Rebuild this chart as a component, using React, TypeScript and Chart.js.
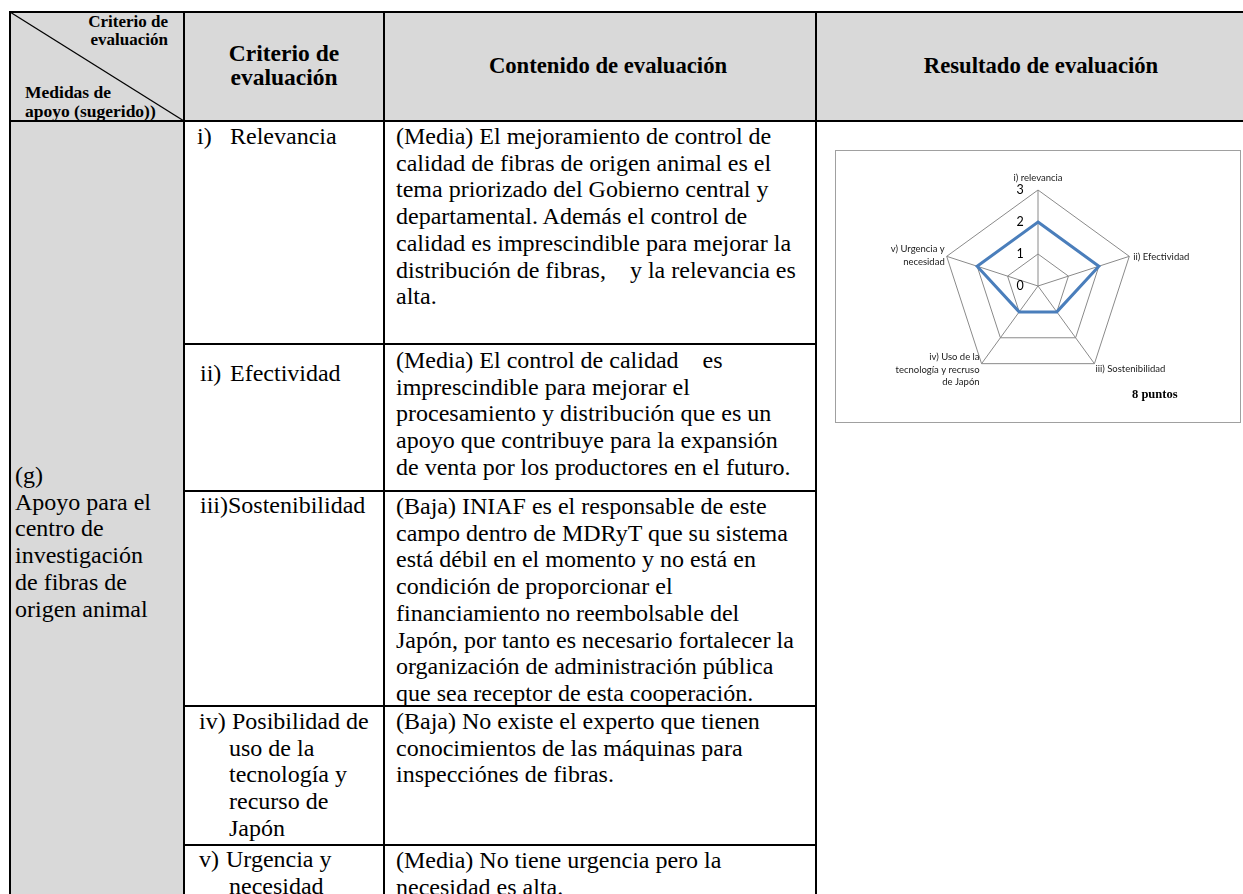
import React, { useEffect, useRef } from "react";
import { Chart, registerables } from "chart.js";

Chart.register(...registerables);

// ---------------- Radar chart data ----------------
const radarCriteria = [
  "i) relevancia",
  "ii) Efectividad",
  "iii) Sostenibilidad",
  "iv) Uso de la tecnología y recruso de Japón",
  "v) Urgencia y necesidad",
];
const radarLabelLines = [
  ["i) relevancia"],
  ["ii) Efectividad"],
  ["iii) Sostenibilidad"],
  ["iv) Uso de la", "tecnología y recruso", "de Japón"],
  ["v) Urgencia y", "necesidad"],
];
const radarScores = [2, 2, 1, 1, 2];
const radarTicks = [0, 1, 2, 3];
const totalText = "8 puntos";

// ---------------- Table text ----------------
const diagTopLines = ["Criterio de", "evaluación"];
const diagBottomLines = ["Medidas de", "apoyo (sugerido))"];
const headCriterio = ["Criterio de", "evaluación"];
const headContenido = "Contenido de evaluación";
const headResultado = "Resultado de evaluación";
const measureLines = ["(g)", "Apoyo para el", "centro de", "investigación", "de fibras de", "origen animal"];
const criterionTags = ["i)", "ii)", "iii)", "iv)", "v)"];
const criterionText = [
  ["Relevancia"],
  ["Efectividad"],
  ["Sostenibilidad"],
  ["Posibilidad de", "uso de la", "tecnología y", "recurso de", "Japón"],
  ["Urgencia y", "necesidad"],
];
const contentText = [
  [
    "(Media) El mejoramiento de control de",
    "calidad de fibras de origen animal es el",
    "tema priorizado del Gobierno central y",
    "departamental. Además el control de",
    "calidad es imprescindible para mejorar la",
    "distribución de fibras,    y la relevancia es",
    "alta.",
  ],
  [
    "(Media) El control de calidad    es",
    "imprescindible para mejorar el",
    "procesamiento y distribución que es un",
    "apoyo que contribuye para la expansión",
    "de venta por los productores en el futuro.",
  ],
  [
    "(Baja) INIAF es el responsable de este",
    "campo dentro de MDRyT que su sistema",
    "está débil en el momento y no está en",
    "condición de proporcionar el",
    "financiamiento no reembolsable del",
    "Japón, por tanto es necesario fortalecer la",
    "organización de administración pública",
    "que sea receptor de esta cooperación.",
  ],
  [
    "(Baja) No existe el experto que tienen",
    "conocimientos de las máquinas para",
    "inspecciónes de fibras.",
  ],
  ["(Media) No tiene urgencia pero la", "necesidad es alta."],
];

// ---------------- Layout ----------------
const PAGE_W = 1243;
const PAGE_H = 894;
const COLS = [10, 184, 384, 816, 1262];
const ROWS = [12, 121, 344, 491, 706, 845, 1010];
const ROW_LINE_W = [2, 2, 2, 1.3, 2, 2];
const GRAY = "#d9d9d9";
const SERIF = '"Liberation Serif", "Times New Roman", serif';
const BODY_FS = 24;
const BODY_LH = 26.7;
const col2Tops = [123, 360, 492, 708, 846];
const col3Tops = [123, 347, 493, 708, 847];
const tagX = [197, 200, 200, 199, 199];
const firstTextX = [230, 230, 228, 232, 226];
const contTextX = [230, 230, 228, 229, 229];
const col3X = 396;
const measureX = 15;
const measureTop = 462;
const BOX = { left: 835, top: 150, width: 404, height: 271 };

function Line({ x, y, w, h }: { x: number; y: number; w: number; h: number }) {
  return <div style={{ position: "absolute", left: x, top: y, width: w, height: h, background: "#000" }} />;
}

function TextLine({ x, y, text, bold, size, lh, align, width }: any) {
  return (
    <div
      style={{
        position: "absolute",
        left: x,
        top: y,
        width: width,
        whiteSpace: "pre",
        fontFamily: SERIF,
        fontWeight: bold ? "bold" : "normal",
        fontSize: size,
        lineHeight: lh + "px",
        textAlign: align || "left",
        color: "#000",
      }}
    >
      {text}
    </div>
  );
}

function RadarChart() {
  const ref = useRef<HTMLCanvasElement>(null);
  useEffect(() => {
    if (!ref.current) return;
    const labelPlugin = {
      id: "customRadarLabels",
      afterDraw(chart: any) {
        const scale = chart.scales.r;
        const ctx = chart.ctx;
        ctx.save();
        ctx.fillStyle = "#000";
        ctx.font = '12.5px Lato, "Open Sans", sans-serif';
        ctx.textAlign = "center";
        ctx.textBaseline = "middle";
        radarTicks.forEach((v) => {
          const d = scale.getDistanceFromCenterForValue(v);
          ctx.fillText(String(v), scale.xCenter - 18, scale.yCenter - d);
        });
        ctx.font = '9.5px Lato, "Open Sans", sans-serif';
        ctx.fillStyle = "#1a1a1a";
        const lh = 12.5;
        radarLabelLines.forEach((lines, i) => {
          const p = scale.getPointPositionForValue(i, scale.max);
          const dx = p.x - scale.xCenter;
          const below = p.y > scale.yCenter + 1;
          let x = p.x;
          let yMid = p.y;
          if (Math.abs(dx) < 1) {
            ctx.textAlign = "center";
            yMid = p.y - 12.5;
          } else if (dx > 0) {
            ctx.textAlign = "left";
            x = p.x + (below ? 1 : 4);
            yMid = p.y + (below ? 5 : 1);
          } else {
            ctx.textAlign = "right";
            x = p.x - 2;
            yMid = p.y + (below ? 6 : -1);
          }
          lines.forEach((t, k) => {
            ctx.fillText(t, x, yMid + (k - (lines.length - 1) / 2) * lh);
          });
        });
        ctx.restore();
      },
    };
    const chart = new Chart(ref.current, {
      type: "radar",
      data: {
        labels: radarCriteria,
        datasets: [
          {
            data: radarScores,
            borderColor: "#4a7ebb",
            borderWidth: 3,
            pointRadius: 0,
            backgroundColor: "rgba(0,0,0,0)",
            fill: false,
          },
        ],
      },
      options: {
        animation: false,
        responsive: false,
        maintainAspectRatio: false,
        layout: { padding: { left: 106, right: 106, top: 39, bottom: 40 } },
        plugins: { legend: { display: false }, tooltip: { enabled: false } },
        scales: {
          r: {
            min: 0,
            max: 3,
            ticks: { stepSize: 1, display: false },
            pointLabels: { display: false },
            grid: { color: "#8a8a8a", lineWidth: 1 },
            angleLines: { color: "#8a8a8a", lineWidth: 1 },
          },
        },
      },
      plugins: [labelPlugin],
    } as any);
    return () => chart.destroy();
  }, []);
  return <canvas ref={ref} width={BOX.width} height={BOX.height} style={{ display: "block", width: BOX.width, height: BOX.height }} />;
}

export default function App() {
  const bottom = ROWS[ROWS.length - 1];
  const right = COLS[COLS.length - 1];
  const els: any[] = [];

  // backgrounds
  els.push(<div key="hbg" style={{ position: "absolute", left: COLS[0], top: ROWS[0], width: right - COLS[0], height: ROWS[1] - ROWS[0], background: GRAY }} />);
  els.push(<div key="c1bg" style={{ position: "absolute", left: COLS[0], top: ROWS[1], width: COLS[1] - COLS[0], height: bottom - ROWS[1], background: GRAY }} />);

  // horizontal lines
  els.push(<Line key="ht" x={COLS[0] - 1} y={ROWS[0] - 1} w={right - COLS[0] + 2} h={2} />);
  els.push(<Line key="hh" x={COLS[0] - 1} y={ROWS[1] - 1} w={right - COLS[0] + 2} h={2} />);
  for (let r = 2; r <= 5; r++) {
    const t = ROW_LINE_W[r];
    els.push(<Line key={"hr" + r} x={COLS[1]} y={ROWS[r] - t / 2} w={COLS[3] - COLS[1]} h={t} />);
  }
  // vertical lines
  for (let c = 0; c < 4; c++) {
    els.push(<Line key={"v" + c} x={COLS[c] - 1} y={ROWS[0] - 1} w={2} h={bottom - ROWS[0]} />);
  }

  // header: diagonal cell
  els.push(
    <svg key="diag" style={{ position: "absolute", left: 0, top: 0 }} width={PAGE_W} height={200}>
      <line x1={COLS[0]} y1={ROWS[0]} x2={COLS[1]} y2={ROWS[1]} stroke="#000" strokeWidth={1.3} />
    </svg>
  );
  diagTopLines.forEach((t, i) =>
    els.push(<TextLine key={"dt" + i} x={COLS[0]} y={13 + i * 17.5} width={158} text={t} bold size={17} lh={17} align="right" />)
  );
  diagBottomLines.forEach((t, i) =>
    els.push(<TextLine key={"db" + i} x={25} y={83 + i * 18.5} text={t} bold size={17.5} lh={18} />)
  );
  headCriterio.forEach((t, i) =>
    els.push(<TextLine key={"hc" + i} x={COLS[1]} y={41 + i * 24} width={COLS[2] - COLS[1]} text={t} bold size={23.5} lh={25} align="center" />)
  );
  els.push(<TextLine key="hcont" x={COLS[2] + 8} y={53} width={COLS[3] - COLS[2]} text={headContenido} bold size={22.7} lh={25} align="center" />);
  els.push(<TextLine key="hres" x={COLS[3] + 2} y={53} width={1262 - COLS[3]} text={headResultado} bold size={22.7} lh={25} align="center" />);

  // column 1
  measureLines.forEach((t, i) =>
    els.push(<TextLine key={"m" + i} x={measureX} y={measureTop + i * BODY_LH} text={t} size={BODY_FS} lh={BODY_LH} />)
  );

  // column 2
  criterionTags.forEach((tag, r) => {
    els.push(<TextLine key={"tag" + r} x={tagX[r]} y={col2Tops[r]} text={tag} size={BODY_FS} lh={BODY_LH} />);
    criterionText[r].forEach((t, k) =>
      els.push(
        <TextLine key={"ct" + r + "_" + k} x={k === 0 ? firstTextX[r] : contTextX[r]} y={col2Tops[r] + k * BODY_LH} text={t} size={BODY_FS} lh={BODY_LH} />
      )
    );
  });

  // column 3
  contentText.forEach((lines, r) =>
    lines.forEach((t, k) =>
      els.push(<TextLine key={"cc" + r + "_" + k} x={col3X} y={col3Tops[r] + k * BODY_LH} text={t} size={BODY_FS} lh={BODY_LH} />)
    )
  );

  // column 4: chart
  els.push(
    <div
      key="chartbox"
      style={{ position: "absolute", left: BOX.left, top: BOX.top, width: BOX.width, height: BOX.height, border: "1px solid #a0a0a0", background: "#fff" }}
    >
      <RadarChart />
      <div
        style={{ position: "absolute", left: 296, top: 236, fontFamily: SERIF, fontWeight: "bold", fontSize: 12.5, lineHeight: "14px", whiteSpace: "pre", color: "#000" }}
      >
        {totalText}
      </div>
    </div>
  );

  return (
    <div style={{ position: "fixed", left: 0, top: 0, width: PAGE_W, height: PAGE_H, overflow: "hidden", background: "#fff" }}>
      {els}
    </div>
  );
}
